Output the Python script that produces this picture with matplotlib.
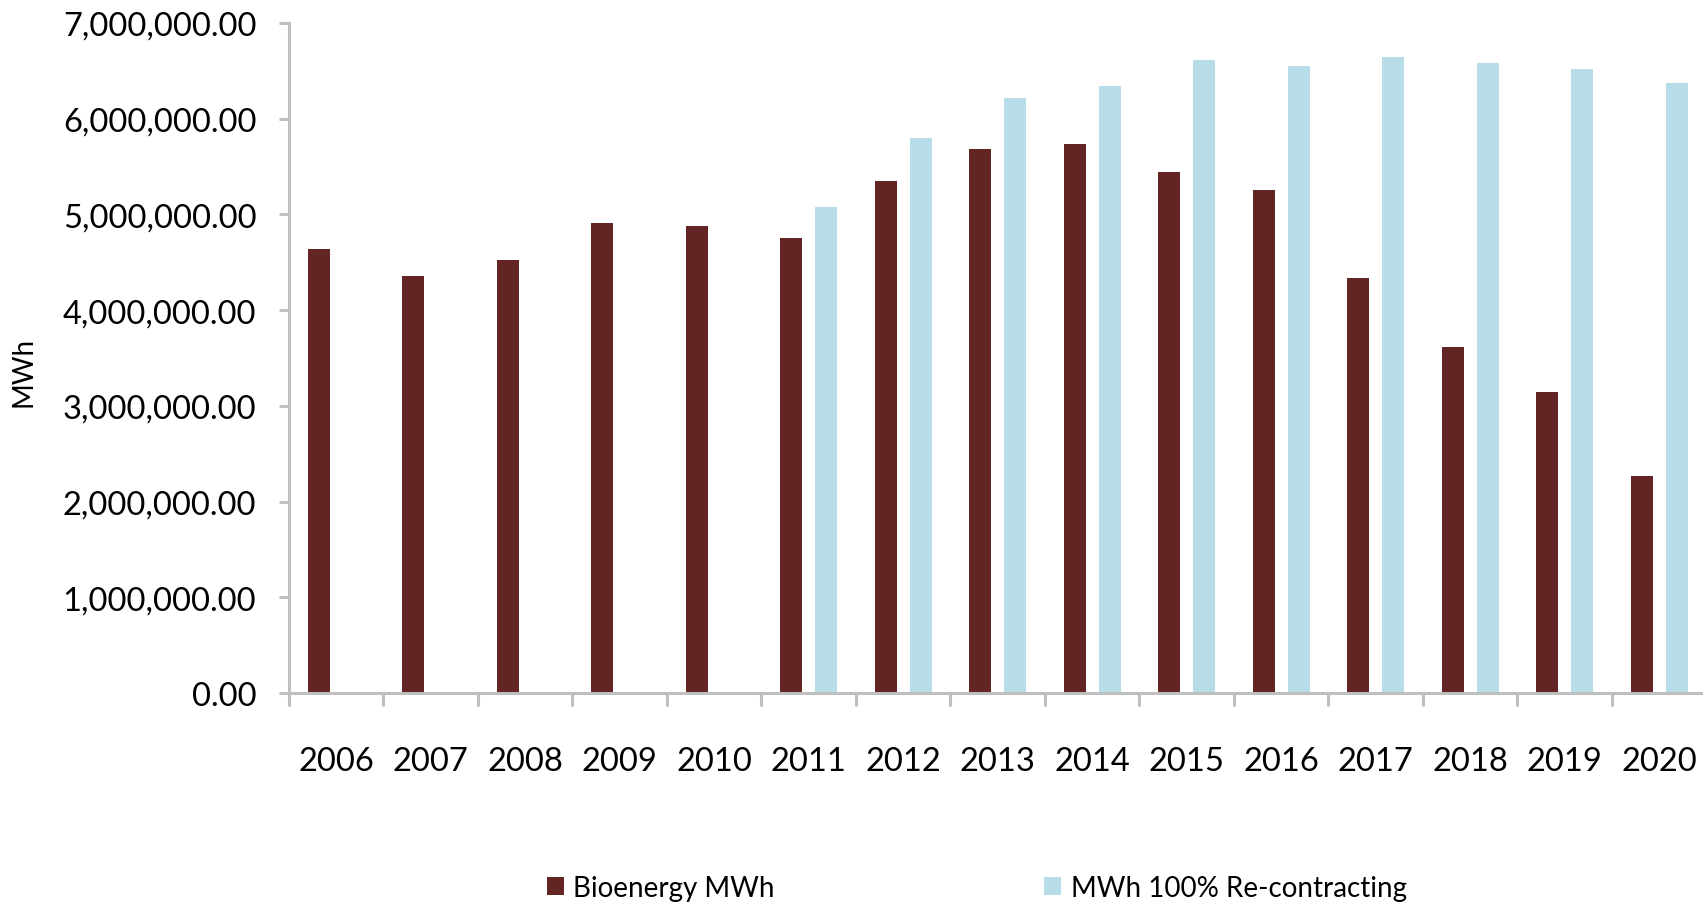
import numpy as np
import matplotlib.pyplot as plt
from matplotlib.ticker import FuncFormatter, FixedLocator
from matplotlib.patches import Patch

plt.rcParams["font.family"] = ["Lato", "DejaVu Sans"]

years = ["2006", "2007", "2008", "2009", "2010", "2011", "2012", "2013",
         "2014", "2015", "2016", "2017", "2018", "2019", "2020"]

# MWh, per year
bioenergy = [4.636e6, 4.36e6, 4.52e6, 4.91e6, 4.88e6, 4.75e6, 5.35e6, 5.68e6,
             5.74e6, 5.44e6, 5.26e6, 4.34e6, 3.62e6, 3.14e6, 2.27e6]
recontracting = [None, None, None, None, None, 5.08e6, 5.80e6, 6.22e6,
                 6.34e6, 6.61e6, 6.55e6, 6.64e6, 6.58e6, 6.52e6, 6.37e6]

BROWN = "#632523"
BLUE = "#b7dde8"
AXIS_GREY = "#bfbfbf"


def plot_data(out_path):
    fig = plt.figure(figsize=(17.03, 9.04), dpi=100)
    ax = fig.add_axes([289 / 1703, 210 / 904, 1414 / 1703, 670 / 904])

    x = np.arange(len(years))
    width = 0.23
    offset = 0.185

    ax.bar(x - offset, bioenergy, width=width, color=BROWN, zorder=2)
    rx = [i for i, v in enumerate(recontracting) if v is not None]
    rv = [v for v in recontracting if v is not None]
    ax.bar(np.array(rx) + offset, rv, width=width, color=BLUE, zorder=2)

    ax.set_xlim(-0.5, 14.463)
    ax.set_ylim(0, 7e6)

    # spines
    for side in ["top", "right"]:
        ax.spines[side].set_visible(False)
    for side in ["left", "bottom"]:
        ax.spines[side].set_color(AXIS_GREY)
        ax.spines[side].set_linewidth(2.2)

    # y axis
    ax.set_yticks(np.arange(0, 7e6 + 1, 1e6))
    ax.yaxis.set_major_formatter(FuncFormatter(lambda v, p: f"{v:,.2f}"))
    ax.tick_params(axis="y", direction="out", length=7.5, width=2.2,
                   color=AXIS_GREY, labelsize=23.5, pad=16)

    # x axis: labels at category centres, ticks at boundaries
    ax.set_xticks(x)
    ax.set_xticklabels(years)
    ax.xaxis.set_minor_locator(FixedLocator(np.arange(-0.5, 15, 1.0)))
    ax.tick_params(axis="x", which="major", length=0, labelsize=23.5, pad=38)
    ax.tick_params(axis="x", which="minor", direction="out", length=9.5,
                   width=2.2, color=AXIS_GREY)

    fig.text(23 / 1703, 1 - 372 / 904, "MWh", rotation=90, ha="center",
             va="center", fontsize=20)

    handles = [Patch(facecolor=BROWN, label="Bioenergy MWh"),
               Patch(facecolor=BLUE, label="MWh 100% Re-contracting")]
    fig.legend(handles=handles, loc="center left",
               bbox_to_anchor=(547 / 1703, 1 - 889 / 904), ncol=2,
               frameon=False, fontsize=20, borderpad=0, borderaxespad=0,
               handlelength=0.6, handleheight=0.6, handletextpad=0.35,
               columnspacing=9.7)

    fig.savefig(out_path, dpi=100)


if __name__ == "__main__":
    plot_data("out.png")
